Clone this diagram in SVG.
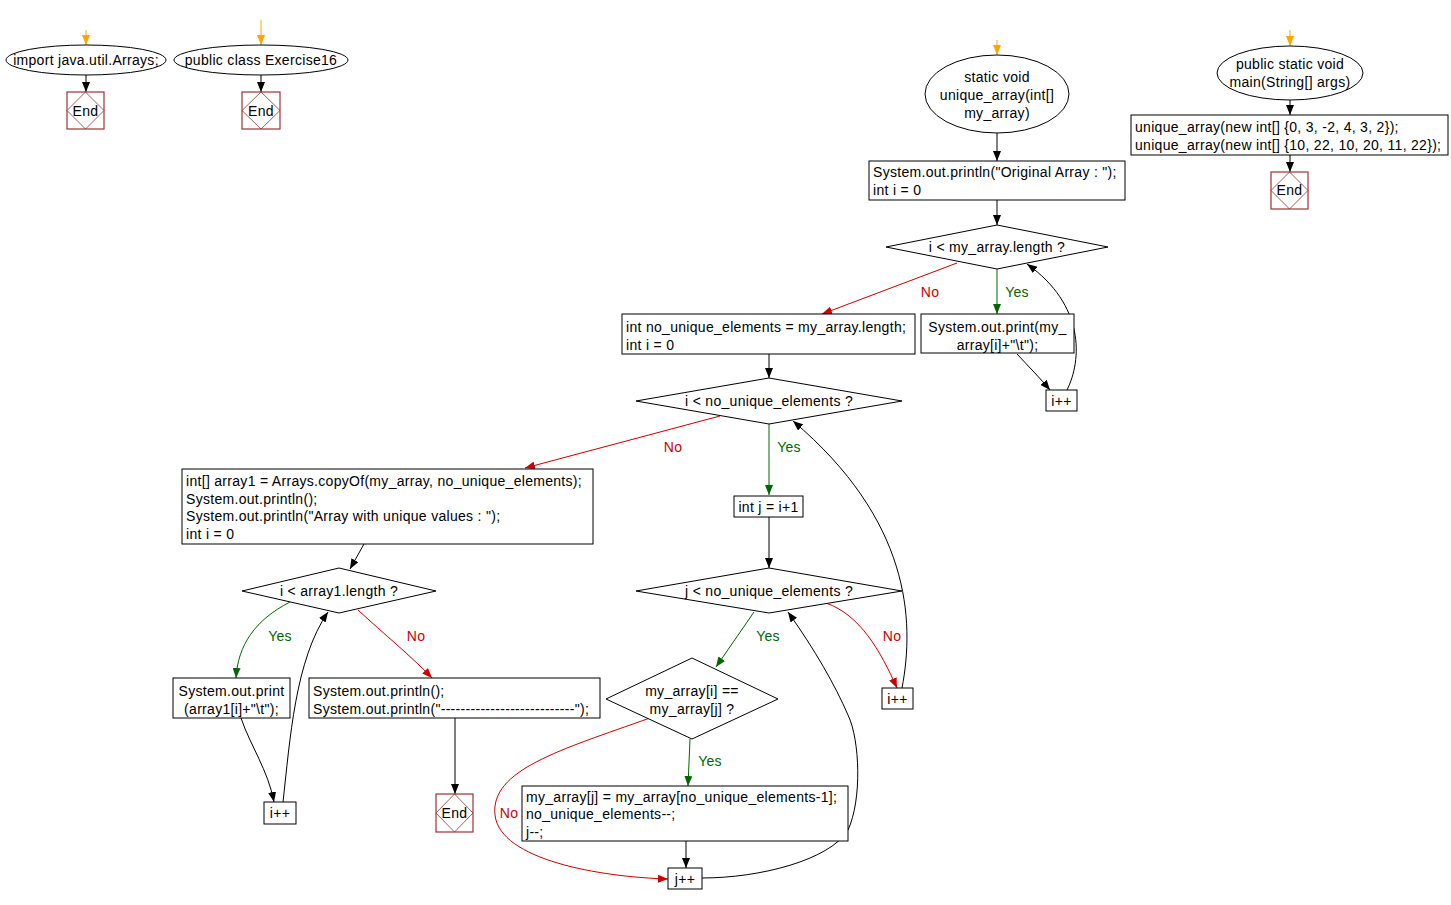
<svg xmlns="http://www.w3.org/2000/svg" width="1451" height="905" viewBox="0 0 1451 905">
<style>
text{font-family:"Liberation Sans",Arial,sans-serif;font-size:14px;letter-spacing:0.3px;fill:#000}
.c{text-anchor:middle}
.n{fill:#fff;stroke:#000;stroke-width:1}
.e{fill:#fff;stroke:#993333;stroke-width:1.2}
.ed{fill:none;stroke:#993333;stroke-width:0.8}
.k{fill:none;stroke:#000;stroke-width:1}
.g{fill:none;stroke:#006600;stroke-width:1}
.r{fill:none;stroke:#cc0000;stroke-width:1}
.o{fill:none;stroke:#ffa500;stroke-width:1}
.lg{fill:#006600}
.lr{fill:#cc0000}
</style>
<defs>
<marker id="ak" markerUnits="userSpaceOnUse" viewBox="0 0 10 8" refX="10" refY="4" markerWidth="10" markerHeight="8" orient="auto"><path d="M0,0L10,4L0,8z" fill="#000"/></marker>
<marker id="ag" markerUnits="userSpaceOnUse" viewBox="0 0 10 8" refX="10" refY="4" markerWidth="10" markerHeight="8" orient="auto"><path d="M0,0L10,4L0,8z" fill="#006600"/></marker>
<marker id="ar" markerUnits="userSpaceOnUse" viewBox="0 0 10 8" refX="10" refY="4" markerWidth="10" markerHeight="8" orient="auto"><path d="M0,0L10,4L0,8z" fill="#cc0000"/></marker>
<marker id="ao" markerUnits="userSpaceOnUse" viewBox="0 0 10 8" refX="10" refY="4" markerWidth="10" markerHeight="8" orient="auto"><path d="M0,0L10,4L0,8z" fill="#ffa500"/></marker>
</defs>
<rect width="1451" height="905" fill="#fff"/>

<g id="connectors">
<path class="o" d="M86,30L86,45" marker-end="url(#ao)"/>
<path class="o" d="M261,20L261,45" marker-end="url(#ao)"/>
<path class="o" d="M997,40L997,55" marker-end="url(#ao)"/>
<path class="o" d="M1290,30L1290,46" marker-end="url(#ao)"/>
<path class="k" d="M86,75L86,92" marker-end="url(#ak)"/>
<path class="k" d="M261,75L261,92" marker-end="url(#ak)"/>
<path class="k" d="M1290,100L1290,115" marker-end="url(#ak)"/>
<path class="k" d="M1290,155L1290,172" marker-end="url(#ak)"/>
<path class="k" d="M997,133L997,161" marker-end="url(#ak)"/>
<path class="k" d="M997,200L997,225" marker-end="url(#ak)"/>
<path class="g" d="M997,269L997,314" marker-end="url(#ag)"/>
<path class="r" d="M957,263L822,314" marker-end="url(#ar)"/>
<path class="k" d="M1017,354C1030,368 1040,378 1050,390" marker-end="url(#ak)"/>
<path class="k" d="M1067,390C1082,360 1085,305 1027,264" marker-end="url(#ak)"/>
<path class="k" d="M769,354L769,378" marker-end="url(#ak)"/>
<path class="r" d="M720,416L525,468" marker-end="url(#ar)"/>
<path class="g" d="M769,424L769,495" marker-end="url(#ag)"/>
<path class="k" d="M769,517L769,568" marker-end="url(#ak)"/>
<path class="r" d="M826,603C860,615 880,650 897,688" marker-end="url(#ar)"/>
<path class="k" d="M902,688C915,620 910,520 793,421" marker-end="url(#ak)"/>
<path class="g" d="M754,612L716,667" marker-end="url(#ag)"/>
<path class="g" d="M690,739L688,786" marker-end="url(#ag)"/>
<path class="r" d="M650,718C560,750 490,770 495,815C500,860 600,877 668,879" marker-end="url(#ar)"/>
<path class="k" d="M686,841L686,868" marker-end="url(#ak)"/>
<path class="k" d="M702,878C760,878 830,860 848,830C862,800 860,740 848,715C835,685 815,650 788,612" marker-end="url(#ak)"/>
<path class="k" d="M364,544L350,569" marker-end="url(#ak)"/>
<path class="g" d="M290,602C255,620 238,645 236,678" marker-end="url(#ag)"/>
<path class="r" d="M358,610C385,635 410,655 432,678" marker-end="url(#ar)"/>
<path class="k" d="M241,718C250,745 268,770 274,802" marker-end="url(#ak)"/>
<path class="k" d="M283,802C290,740 295,660 328,612" marker-end="url(#ak)"/>
<path class="k" d="M455,718L455,794" marker-end="url(#ak)"/>
<text class="c lg" x="1017" y="297">Yes</text>
<text class="c lr" x="930" y="297">No</text>
<text class="c lr" x="673" y="452">No</text>
<text class="c lg" x="789" y="452">Yes</text>
<text class="c lg" x="768" y="641">Yes</text>
<text class="c lr" x="892" y="641">No</text>
<text class="c lg" x="710" y="766">Yes</text>
<text class="c lr" x="509" y="818">No</text>
<text class="c lg" x="280" y="641">Yes</text>
<text class="c lr" x="416" y="641">No</text>
</g>

<g id="n_import"><ellipse class="n" cx="86" cy="60" rx="80" ry="15"/><text class="c" x="86" y="65">import java.util.Arrays;</text></g>
<g id="n_end1"><rect class="e" x="67" y="92" width="37" height="37"/><path class="ed" d="M85.5,92L104,110.5L85.5,129L67,110.5z"/><text class="c" x="85.5" y="115.5">End</text></g>
<g id="n_class"><ellipse class="n" cx="261" cy="60" rx="87" ry="15"/><text class="c" x="261" y="65">public class Exercise16</text></g>
<g id="n_end2"><rect class="e" x="242" y="92" width="38" height="37"/><path class="ed" d="M261,92L280,110.5L261,129L242,110.5z"/><text class="c" x="261" y="115.5">End</text></g>

<g id="n_unique"><ellipse class="n" cx="997" cy="94" rx="72" ry="39"/><text class="c" x="997" y="82">static void</text><text class="c" x="997" y="100">unique_array(int[]</text><text class="c" x="997" y="118">my_array)</text></g>
<g id="n_orig"><rect class="n" x="869" y="161" width="256" height="39"/><text x="873" y="177">System.out.println("Original Array : ");</text><text x="873" y="194.5">int i = 0</text></g>
<g id="n_d1"><path class="n" d="M886,247L997,225L1108,247L997,269z"/><text class="c" x="997" y="252">i &lt; my_array.length ?</text></g>
<g id="n_print1"><rect class="n" x="921" y="314" width="153" height="39"/><text class="c" x="997.5" y="332">System.out.print(my_</text><text class="c" x="997.5" y="349.5">array[i]+"\t");</text></g>
<g id="n_inc1"><rect class="n" x="1046" y="390" width="31" height="21"/><text class="c" x="1061.5" y="405.5">i++</text></g>
<g id="n_nue"><rect class="n" x="622" y="314" width="293" height="40"/><text x="626" y="332">int no_unique_elements = my_array.length;</text><text x="626" y="349.5">int i = 0</text></g>
<g id="n_d2"><path class="n" d="M636,401L769,378L902,401L769,424z"/><text class="c" x="769" y="406">i &lt; no_unique_elements ?</text></g>
<g id="n_array1"><rect class="n" x="182" y="469" width="411" height="75"/><text x="186" y="486">int[] array1 = Arrays.copyOf(my_array, no_unique_elements);</text><text x="186" y="503.5">System.out.println();</text><text x="186" y="521">System.out.println("Array with unique values : ");</text><text x="186" y="538.5">int i = 0</text></g>
<g id="n_j"><rect class="n" x="734" y="496" width="69" height="21"/><text class="c" x="768.5" y="511.5">int j = i+1</text></g>
<g id="n_d3"><path class="n" d="M636,591L769,568L902,591L769,613z"/><text class="c" x="769" y="596">j &lt; no_unique_elements ?</text></g>
<g id="n_inc2"><rect class="n" x="882" y="688" width="31" height="21"/><text class="c" x="897.5" y="703.5">i++</text></g>
<g id="n_d4"><path class="n" d="M606,699L692,658L778,699L692,739z"/><text class="c" x="692" y="696">my_array[i] ==</text><text class="c" x="692" y="713.5">my_array[j] ?</text></g>
<g id="n_swap"><rect class="n" x="522" y="786" width="326" height="55"/><text x="526" y="801.5">my_array[j] = my_array[no_unique_elements-1];</text><text x="526" y="819">no_unique_elements--;</text><text x="526" y="836.5">j--;</text></g>
<g id="n_jinc"><rect class="n" x="668" y="868" width="34" height="21"/><text class="c" x="685" y="883.5">j++</text></g>
<g id="n_d5"><path class="n" d="M242,591L339,568L436,591L339,613z"/><text class="c" x="339" y="596">i &lt; array1.length ?</text></g>
<g id="n_print2"><rect class="n" x="173" y="678" width="117" height="40"/><text class="c" x="231.5" y="696">System.out.print</text><text class="c" x="231.5" y="713.5">(array1[i]+"\t");</text></g>
<g id="n_inc3"><rect class="n" x="264" y="802" width="32" height="22"/><text class="c" x="280" y="817.5">i++</text></g>
<g id="n_println"><rect class="n" x="309" y="678" width="291" height="40"/><text x="313" y="696">System.out.println();</text><text x="313" y="713.5">System.out.println("---------------------------");</text></g>
<g id="n_end3"><rect class="e" x="436" y="794" width="37" height="38"/><path class="ed" d="M454.5,794L473,813L454.5,832L436,813z"/><text class="c" x="454.5" y="817.5">End</text></g>

<g id="n_main"><ellipse class="n" cx="1290" cy="73" rx="73" ry="27"/><text class="c" x="1290" y="69">public static void</text><text class="c" x="1290" y="87">main(String[] args)</text></g>
<g id="n_calls"><rect class="n" x="1131" y="115" width="317" height="40"/><text x="1135" y="132">unique_array(new int[] {0, 3, -2, 4, 3, 2});</text><text x="1135" y="149.5">unique_array(new int[] {10, 22, 10, 20, 11, 22});</text></g>
<g id="n_end4"><rect class="e" x="1271" y="172" width="37" height="37"/><path class="ed" d="M1289.5,172L1308,190.5L1289.5,209L1271,190.5z"/><text class="c" x="1289.5" y="194.5">End</text></g>
</svg>
